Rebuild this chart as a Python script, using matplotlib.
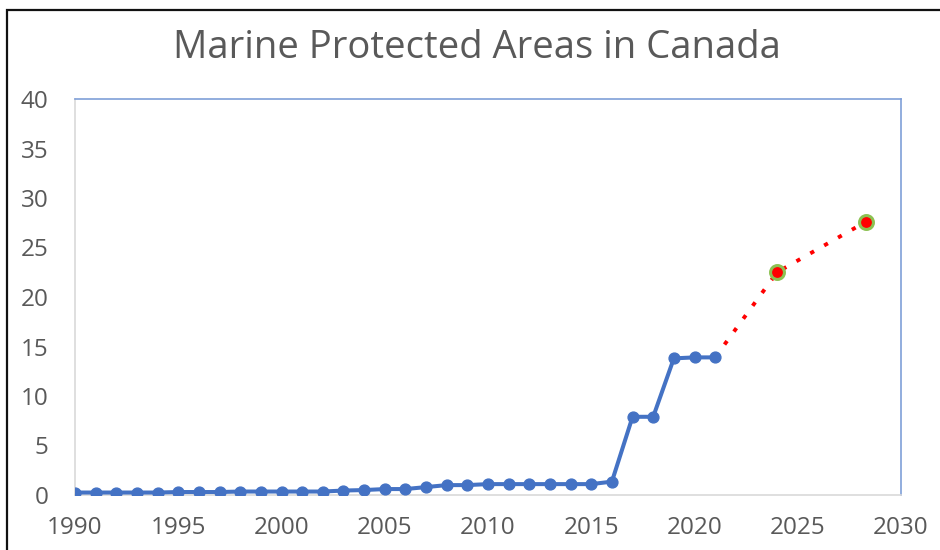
import matplotlib
matplotlib.use("Agg")
import matplotlib.pyplot as plt
from matplotlib.patches import Rectangle

years = list(range(1990, 2022))
values = [0.25, 0.25, 0.25, 0.25, 0.25, 0.3, 0.3, 0.3, 0.35, 0.35,
          0.35, 0.35, 0.35, 0.45, 0.5, 0.6, 0.6, 0.8, 1.0, 1.0,
          1.1, 1.1, 1.1, 1.1, 1.1, 1.1, 1.35, 7.9, 7.9, 13.8,
          13.9, 13.9]

target_years = [2021, 2024, 2028.3]
target_values = [13.9, 22.5, 27.6]

title = "Marine Protected Areas in Canada"
x_ticks = [1990, 1995, 2000, 2005, 2010, 2015, 2020, 2025, 2030]
y_ticks = [0, 5, 10, 15, 20, 25, 30, 35, 40]

plt.rcParams['font.family'] = ['Open Sans', 'DejaVu Sans']

fig = plt.figure(figsize=(9.4, 5.5), dpi=100)
ax = fig.add_axes([75/940, 1-495/550, (901-75)/940, (495-99)/550])

# outer border
fig.patches.append(Rectangle((7.5/940, -0.1), 1.2, 1 - 10.5/550 + 0.1,
                             transform=fig.transFigure, fill=False,
                             edgecolor='#111111', linewidth=1.6, zorder=0))

ax.plot(target_years, target_values, color='#ff0000', linewidth=2.8,
        linestyle=(0, (1.1, 3.0)), dash_capstyle='butt', zorder=2)
ax.plot(target_years[1:], target_values[1:], linestyle='none', marker='o',
        markersize=10, markerfacecolor='#ff0000', markeredgecolor='#8cc152',
        markeredgewidth=2.2, zorder=4)
ax.plot(years, values, color='#4472C4', linewidth=2.9, marker='o',
        markersize=7.8, zorder=3)

ax.set_xlim(1990, 2030)
ax.set_ylim(0, 40)
ax.set_xticks(x_ticks)
ax.set_yticks(y_ticks)
ax.tick_params(axis='both', length=0, labelsize=17.5, labelcolor='#595959')
ax.tick_params(axis='y', pad=19)
ax.tick_params(axis='x', pad=15)

for s in ['left', 'bottom']:
    ax.spines[s].set_color('#d9d9d9')
    ax.spines[s].set_linewidth(1.2)
for s in ['top', 'right']:
    ax.spines[s].set_color('#7f9fd8')
    ax.spines[s].set_linewidth(1.2)

fig.text(477/940, 1-48/550, title, ha='center', va='center',
         fontsize=27.5, color='#595959')

fig.savefig('out.png', dpi=100)
